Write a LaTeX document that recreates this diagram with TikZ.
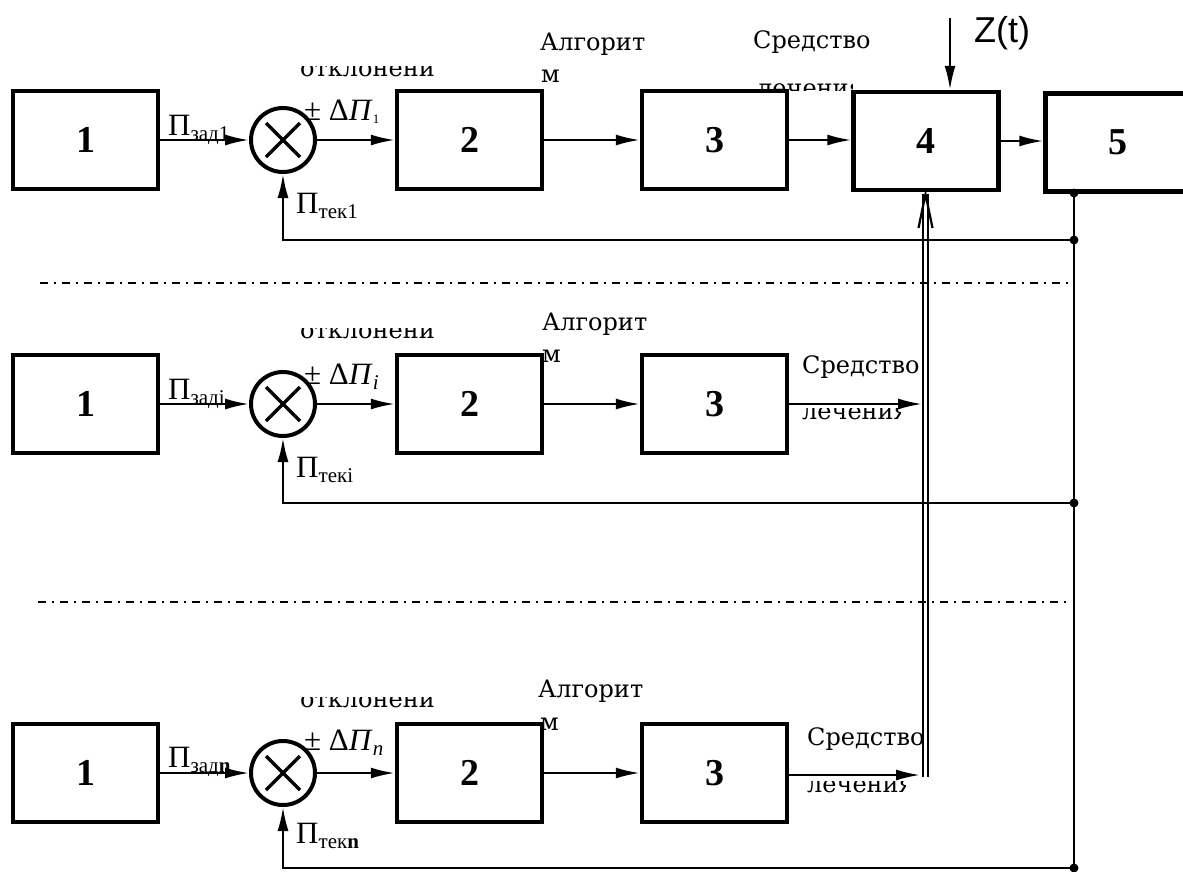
\documentclass[tikz,border=0pt]{standalone}
\usepackage{fontspec}
\setmainfont{Liberation Serif}
\newfontfamily\wfont{DejaVu Serif}
\newfontfamily\zfont{Liberation Sans}
\usetikzlibrary{arrows.meta}
\newcommand{\sbs}[1]{\raisebox{-5pt}{\fontsize{21}{21}\selectfont #1}}
\tikzset{
 blk/.style={draw, line width=4.5pt, minimum width=145pt, minimum height=98pt, inner sep=0pt, font=\fontsize{38}{38}\selectfont\bfseries},
 sumc/.style={circle, draw, line width=4pt, minimum size=64pt, inner sep=0pt},
 sig/.style={line width=2.2pt, -{Latex[length=24pt,width=11pt]}},
 wire/.style={line width=2.2pt},
 plbl/.style={font=\fontsize{31}{31}\selectfont, inner sep=0pt, anchor=base west},
 wlbl/.style={font=\wfont\fontsize{24}{24}\selectfont, inner sep=0pt, anchor=base west},
 jdot/.style={circle, fill, inner sep=0pt, minimum size=9pt},
 sepline/.style={line width=2pt, dash pattern=on 8pt off 6pt on 2pt off 6pt}
}
\begin{document}
\begin{tikzpicture}[x=1pt,y=-1pt]
\clip (0,0) rectangle (1183,871);
\fill[white] (0,0) rectangle (1183,871);

% ---------- row 1 ----------
\node[blk] (b1a) at (85.5,140) {1};
\node[sumc] (sa) at (283,140) {};
\node[blk] (b2a) at (469.5,140) {2};
\node[blk] (b3a) at (714.5,140) {3};
\node[blk] (b4) at (926,141) {4};
\node[blk] (b5) at (1118,142.5) {5};
% ---------- row 2 ----------
\node[blk] (b1b) at (85.5,404) {1};
\node[sumc] (sb) at (283,404) {};
\node[blk] (b2b) at (469.5,404) {2};
\node[blk] (b3b) at (714.5,404) {3};
% ---------- row 3 ----------
\node[blk] (b1c) at (85.5,773) {1};
\node[sumc] (sc) at (283,773) {};
\node[blk] (b2c) at (469.5,773) {2};
\node[blk] (b3c) at (714.5,773) {3};

% crosses
\foreach \s in {sa,sb,sc}{
  \draw[line width=3.5pt] ([shift={(-17pt,-17pt)}]\s.center) -- ([shift={(17pt,17pt)}]\s.center);
  \draw[line width=3.5pt] ([shift={(-17pt,17pt)}]\s.center) -- ([shift={(17pt,-17pt)}]\s.center);
}

% coordinates
\coordinate (zt) at (950,18);
\coordinate (bt) at (1074,193);
\coordinate (fa) at (1074,240);
\coordinate (fb) at (1074,503);
\coordinate (fc) at (1074,868);
\coordinate (jb) at (922,404);
\coordinate (jc) at (920,775);
\coordinate (dbot) at (925.5,777);
\coordinate (dtop) at (925.5,194);
\coordinate (dl1) at (40,283);
\coordinate (dr1) at (1075,283);
\coordinate (dl2) at (38,602);
\coordinate (dr2) at (1070,602);

% signal arrows
\foreach \a/\s/\b/\c in {b1a/sa/b2a/b3a, b1b/sb/b2b/b3b, b1c/sc/b2c/b3c}{
  \draw[sig] (\a.east) -- (\s.west);
  \draw[sig] (\s.east) -- (\b.west);
  \draw[sig] (\b.east) -- (\c.west);
}
\draw[sig] (b3a.east) -- (b3a.east -| b4.west);
\draw[sig] (b4.east) -- (b4.east -| b5.west);
\draw[sig] (zt) -- (zt |- b4.north);
\draw[sig] (b3b.east) -- (jb);
\draw[sig] (b3c.east |- jc) -- (jc);

% double line into block 4
\draw[wire] ([xshift=-2.7pt]dbot) -- ([xshift=-2.7pt]dtop);
\draw[wire] ([xshift=2.7pt]dbot) -- ([xshift=2.7pt]dtop);
\draw[line width=2.2pt, line join=miter] ([shift={(-7pt,-34pt)}]dtop) -- (dtop) -- ([shift={(7pt,-34pt)}]dtop);

% feedback
\draw[wire] (bt) -- (fc);
\draw[sig] (fa) -| (sa.south);
\draw[sig] (fb) -| (sb.south);
\draw[sig] (fc) -| (sc.south);
\foreach \p in {bt,fa,fb,fc} \node[jdot] at (\p) {};

% separators
\draw[sepline] (dl1) -- (dr1);
\draw[sepline] (dl2) -- (dr2);

% labels row 1
\node[plbl] at (168,135) {П\sbs{зад1}};
\node[plbl] at (304,120) {± Δ\textit{П}\raisebox{-3pt}{\fontsize{13}{13}\selectfont 1}};
\node[plbl] at (296,213) {П\sbs{тек1}};
\begin{scope}\clip (290,66) rectangle (450,90);
\node[wlbl] at (300,76) {отклонени};\end{scope}
\node[wlbl] at (540,50) {Алгорит};
\node[wlbl] at (541,82) {м};
\node[wlbl] at (753,48) {Средство};
\begin{scope}\clip (740,70) rectangle (852,90);
\node[wlbl] at (757,96) {лечения};\end{scope}
\node[font=\zfont\fontsize{36}{36}\selectfont, inner sep=0pt, anchor=base west] at (974,42) {Z(t)};

% labels row 2
\node[plbl] at (168,399) {П\sbs{заді}};
\node[plbl] at (304,384) {± Δ\textit{П}\sbs{\textit{i}}};
\node[plbl] at (296,477) {П\sbs{текі}};
\begin{scope}\clip (290,328) rectangle (450,345);
\node[wlbl] at (300,338) {отклонени};\end{scope}
\node[wlbl] at (542,330) {Алгорит};
\node[wlbl] at (542,362) {м};
\node[wlbl] at (802,373) {Средство};
\begin{scope}\clip (790,408) rectangle (900,425);
\node[wlbl] at (802,419) {лечения};\end{scope}

% labels row 3
\node[plbl] at (168,767) {П\sbs{зад\textbf{n}}};
\node[plbl] at (304,750) {± Δ\textit{П}\sbs{\textit{n}}};
\node[plbl] at (296,843) {П\sbs{тек\textbf{n}}};
\begin{scope}\clip (290,697) rectangle (450,712);
\node[wlbl] at (300,707) {отклонени};\end{scope}
\node[wlbl] at (538,697) {Алгорит};
\node[wlbl] at (540,730) {м};
\node[wlbl] at (807,745) {Средство};
\begin{scope}\clip (795,781) rectangle (905,800);
\node[wlbl] at (807,792) {лечения};\end{scope}
\end{tikzpicture}
\end{document}
